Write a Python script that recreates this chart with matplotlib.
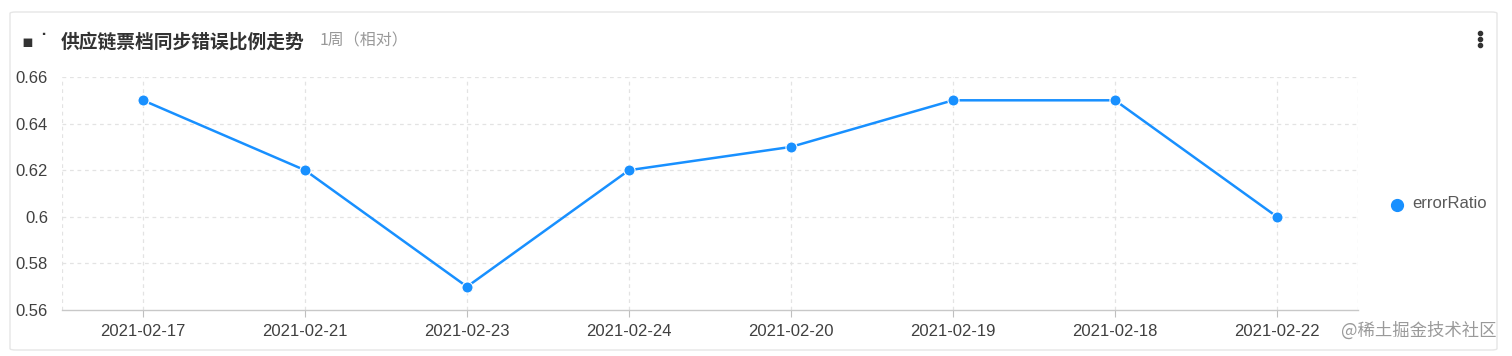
import matplotlib
matplotlib.use("Agg")
import matplotlib.pyplot as plt
from matplotlib.patches import FancyBboxPatch
from matplotlib.lines import Line2D

plt.rcParams['font.family'] = ['Liberation Sans', 'Noto Sans CJK SC', 'DejaVu Sans']

dates = ["2021-02-17", "2021-02-21", "2021-02-23", "2021-02-24",
         "2021-02-20", "2021-02-19", "2021-02-18", "2021-02-22"]
error_ratio = [0.65, 0.62, 0.57, 0.62, 0.63, 0.65, 0.65, 0.60]
y_ticks = [0.56, 0.58, 0.6, 0.62, 0.64, 0.66]
y_labels = ["0.56", "0.58", "0.6", "0.62", "0.64", "0.66"]
series_name = "errorRatio"
title = "供应链票档同步错误比例走势"
subtitle = "1周（相对）"
watermark = "@稀土掘金技术社区"

W, H = 1512, 356
fig = plt.figure(figsize=(W / 100, H / 100), dpi=100)
fig.patch.set_facecolor("white")

# card
card = FancyBboxPatch((10 / W, 6 / H), (1487 / W), (338 / H),
                      boxstyle="round,pad=0,rounding_size=0.004",
                      transform=fig.transFigure, facecolor="white",
                      edgecolor="#e6e6e6", linewidth=1.0, zorder=-5)
fig.patches.append(card)

ax = fig.add_axes([62 / W, (H - 310) / H, (1358 - 62) / W, (310 - 77) / H])
ax.set_zorder(2)
ax.set_facecolor("none")
x = list(range(len(dates)))
color = "#1890ff"
ax.plot(x, error_ratio, color=color, lw=1.8, marker="o", ms=8,
        markeredgecolor="white", markeredgewidth=0.8, zorder=3, clip_on=False)

ax.set_xlim(-0.5, len(dates) - 0.5)
ax.set_ylim(0.56, 0.66)
ax.set_yticks(y_ticks)
ax.set_yticklabels(y_labels)
ax.set_xticks(x)
ax.set_xticklabels(dates)
ax.tick_params(axis="y", length=0, pad=10, labelsize=12, labelcolor="#404040")
ax.tick_params(axis="x", length=5, color="#bfbfbf", pad=5, labelsize=12,
               labelcolor="#404040")

for yv in y_ticks[1:]:
    ax.axhline(yv, color="#e3e3e3", lw=0.9, ls=(0, (3, 3)), zorder=1)
for xv in [-0.5] + x + [len(dates) - 0.5]:
    ax.axvline(xv, color="#e3e3e3", lw=0.9, ls=(0, (3, 3)), zorder=1)

for s in ["top", "right", "left"]:
    ax.spines[s].set_visible(False)
ax.spines["bottom"].set_color("#c8c8c8")
ax.spines["bottom"].set_linewidth(1.0)

# title
fig.text(22 / W, 1 - 42 / H, "▪ ˙", fontsize=12.5, fontweight="bold",
         color="#333333", va="center", ha="left",
         family=["DejaVu Sans"])
fig.text(61 / W, 1 - 42 / H, title, fontsize=13.5, fontweight="bold",
         color="#333333", va="center", ha="left",
         family=["Noto Sans CJK SC", "DejaVu Sans"])
fig.text(320 / W, 1 - 41 / H, subtitle, fontsize=11.5, color="#999999",
         va="center", ha="left", family=["Noto Sans CJK SC", "DejaVu Sans"])

# menu dots
for yy in [33, 39, 45]:
    fig.add_artist(Line2D([1480 / W], [1 - yy / H], marker="o", ms=3,
                          color="#333333", transform=fig.transFigure))

# legend
fig.add_artist(Line2D([1397 / W], [1 - 205 / H], marker="o", ms=8.5,
                      color=color, transform=fig.transFigure))
fig.text(1412 / W, 1 - 204 / H, series_name, fontsize=12, color="#595959",
         va="center", ha="left")

# watermark
fig.text(1497 / W, 1 - 331 / H, watermark, fontsize=12.5, color="#9a9a9a",
         va="center", ha="right", family=["Noto Sans CJK SC", "DejaVu Sans"])

fig.savefig("out.png", dpi=100, facecolor="white")
